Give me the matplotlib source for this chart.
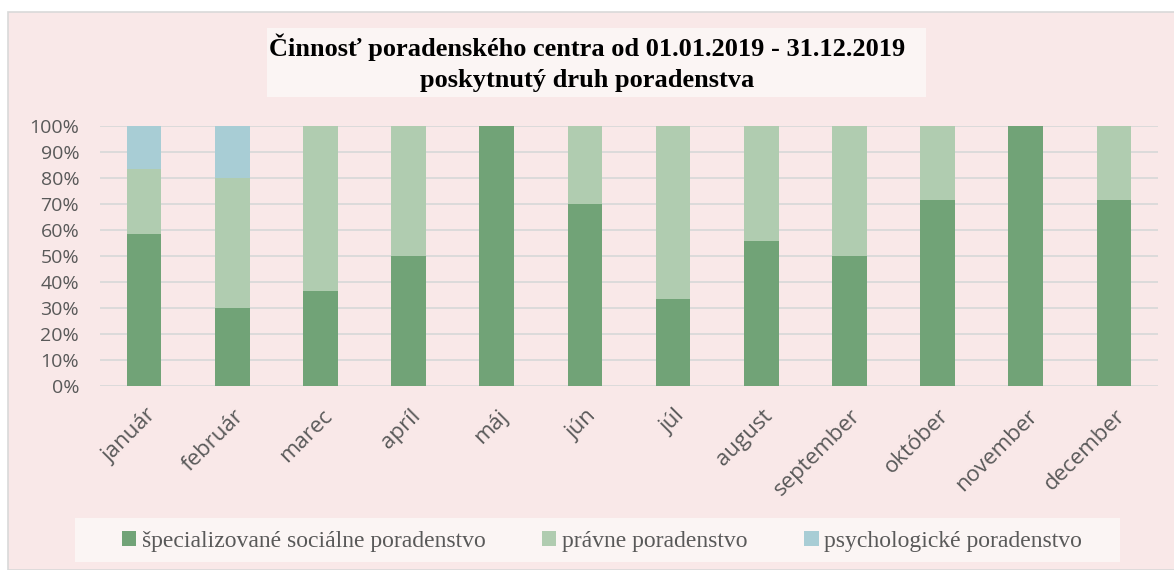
import matplotlib.pyplot as plt
import matplotlib.transforms as mtransforms
from matplotlib.patches import Rectangle
from matplotlib.ticker import PercentFormatter

months = ['január', 'február', 'marec', 'apríl', 'máj', 'jún', 'júl',
          'august', 'september', 'október', 'november', 'december']
# podiel v % podľa druhu poradenstva
socialne = [58.3, 30.0, 36.4, 50.0, 100.0, 70.0, 33.3, 55.6, 50.0, 71.4, 100.0, 71.4]
pravne = [25.0, 50.0, 63.6, 50.0, 0.0, 30.0, 66.7, 44.4, 50.0, 28.6, 0.0, 28.6]
psycho = [16.7, 20.0, 0.0, 0.0, 0.0, 0.0, 0.0, 0.0, 0.0, 0.0, 0.0, 0.0]
series_names = ['špecializované sociálne poradenstvo', 'právne poradenstvo',
                'psychologické poradenstvo']
colors = ['#71a377', '#b0ccb0', '#a8cdd5']

W, H = 1174, 570
fig = plt.figure(figsize=(W / 100, H / 100), dpi=100)
fig.patch.set_facecolor('white')

# ružové pozadie grafu
fig.patches.append(Rectangle((8 / W, 0), 1, 1 - 12 / H, transform=fig.transFigure,
                             facecolor='#f9e8e8', edgecolor='#d9d9d9', lw=1.2, zorder=-2))
# pozadie titulku
fig.patches.append(Rectangle((267 / W, 1 - 97 / H), 659 / W, 69 / H, transform=fig.transFigure,
                             facecolor='#fbf5f4', edgecolor='none', zorder=-1))
# pozadie legendy
fig.patches.append(Rectangle((75 / W, 1 - 562 / H), 1045 / W, 44 / H, transform=fig.transFigure,
                             facecolor='#fbf5f4', edgecolor='none', zorder=-1))

ax = fig.add_axes([100 / W, 184 / H, 1058 / W, 260 / H])
ax.set_zorder(3)
ax.set_facecolor('none')

x = list(range(len(months)))
bottom2 = [a for a in socialne]
bottom3 = [a + b for a, b in zip(socialne, pravne)]
ax.bar(x, socialne, width=0.394, color=colors[0], label=series_names[0], zorder=3)
ax.bar(x, pravne, width=0.394, bottom=bottom2, color=colors[1], label=series_names[1], zorder=3)
ax.bar(x, psycho, width=0.394, bottom=bottom3, color=colors[2], label=series_names[2], zorder=3)

ax.set_xlim(-0.5, 11.5)
ax.set_ylim(0, 100)
ax.set_yticks(range(0, 101, 10))
ax.yaxis.set_major_formatter(PercentFormatter(decimals=0))
ax.grid(axis='y', color='#d9d9d9', lw=1.3, zorder=0)
for s in ax.spines.values():
    s.set_visible(False)
ax.tick_params(axis='both', length=0, colors='#595959')
ax.tick_params(axis='y', pad=15, labelsize=14)
ax.tick_params(axis='x', pad=14, labelsize=16)
ax.set_xticks(x)
ax.set_xticklabels(months, rotation=45, ha='right', rotation_mode='anchor')
shift = mtransforms.ScaledTranslation(1 / 100, 0, fig.dpi_scale_trans)
for lab in ax.get_xticklabels():
    lab.set_transform(lab.get_transform() + shift)
for lab in ax.get_xticklabels() + ax.get_yticklabels():
    lab.set_family('Open Sans')

fig.text(0.5, 1 - 47 / H, 'Činnosť poradenského centra od 01.01.2019 - 31.12.2019',
         ha='center', va='center', family='Liberation Serif', weight='bold', size=19)
fig.text(0.5, 1 - 80 / H, 'poskytnutý druh poradenstva',
         ha='center', va='center', family='Liberation Serif', weight='bold', size=19)

leg = fig.legend(loc='center', bbox_to_anchor=(602 / W, 1 - 541 / H), ncol=3, frameon=False,
                 prop={'family': 'Liberation Serif', 'size': 17}, handlelength=0.6,
                 handleheight=0.6, handletextpad=0.25, columnspacing=2.4, labelcolor='#595959')

fig.savefig('out.png', dpi=100)
